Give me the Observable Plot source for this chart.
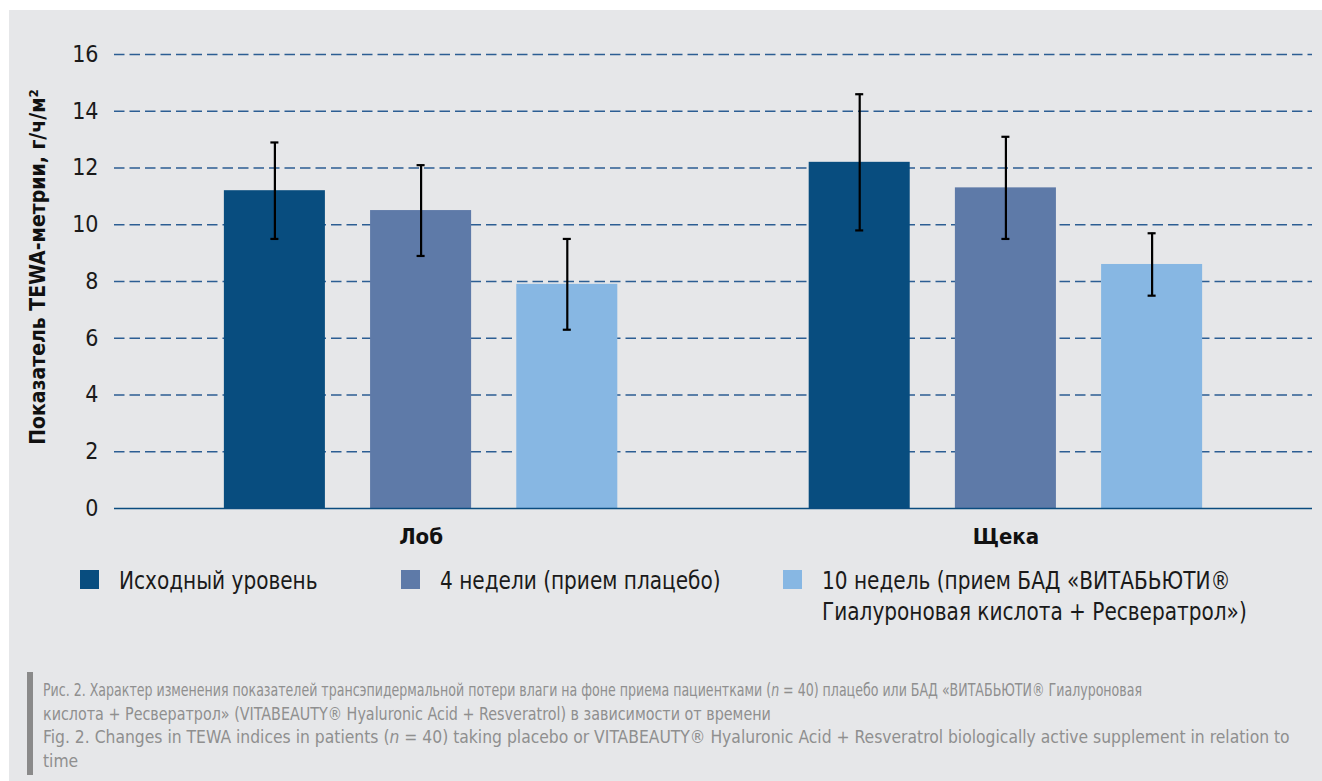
<!DOCTYPE html>
<html>
<head>
<meta charset="utf-8">
<script src="https://cdn.jsdelivr.net/npm/d3@7"></script>
<script src="https://cdn.jsdelivr.net/npm/@observablehq/plot@0.6"></script>
<style>
  html, body { margin: 0; padding: 0; background: #ffffff; }
  body { width: 1322px; height: 781px; position: relative; overflow: hidden;
         font-family: "DejaVu Sans Condensed", "Liberation Sans", sans-serif; }
  #panel { position: absolute; left: 9px; top: 10px; width: 1313px; height: 771px; background: #e6e7e9; }
  #chart { position: absolute; left: 0; top: 0; }
  #ytitle { position: absolute; left: 38px; top: 267px; transform: translate(-50%, -50%) rotate(-90deg);
            white-space: nowrap; font-weight: bold; font-size: 21px; color: #111; }
  .leg { position: absolute; top: 570px; font-size: 24px; color: #1a1a1a; line-height: 31px; }
  .leg .sw { position: absolute; left: 0; top: 0; width: 19px; height: 19px; }
  .leg .tx { position: absolute; left: 39px; top: -4px; white-space: nowrap; transform: scaleX(0.93); transform-origin: 0 0; }
  #capbar { position: absolute; left: 27px; top: 672px; width: 6px; height: 103px; background: #8a8a8a; }
  #caption { position: absolute; left: 43px; top: 679px; font-size: 17.5px; line-height: 23.5px; color: #8f8f8f; }
  #caption .ln { display: block; height: 23.5px; white-space: nowrap; transform-origin: 0 0; }
</style>
</head>
<body>
<div id="panel"></div>
<div id="chart"></div>
<div id="ytitle"></div>
<div id="legend"></div>
<div id="capbar"></div>
<div id="caption"></div>
<script>
// ---- data ----
const groups = ["Лоб", "Щека"];
const series = [
  "Исходный уровень",
  "4 недели (прием плацебо)",
  "10 недель (прием БАД «ВИТАБЬЮТИ® Гиалуроновая кислота + Ресвератрол»)"
];
const legendLines = [
  ["Исходный уровень"],
  ["4 недели (прием плацебо)"],
  ["10 недель (прием БАД «ВИТАБЬЮТИ®", "Гиалуроновая кислота + Ресвератрол»)"]
];
const colors = ["#084d7f", "#5e7aa8", "#87b7e3"];
const foreheadMean = [11.2, 10.5, 7.9];
const foreheadLow  = [9.5, 8.9, 6.3];
const foreheadHigh = [12.9, 12.1, 9.5];
const cheekMean = [12.2, 11.3, 8.6];
const cheekLow  = [9.8, 9.5, 7.5];
const cheekHigh = [14.6, 13.1, 9.7];
const yTicks = [0, 2, 4, 6, 8, 10, 12, 14, 16];
const yTitle = "Показатель TEWA-метрии, г/ч/м²";
const captionLines = [
  "Рис. 2. Характер изменения показателей трансэпидермальной потери влаги на фоне приема пациентками (<i>n</i> = 40) плацебо или БАД «ВИТАБЬЮТИ® Гиалуроновая",
  "кислота + Ресвератрол» (VITABEAUTY® Hyaluronic Acid + Resveratrol) в зависимости от времени",
  "Fig. 2. Changes in TEWA indices in patients (<i>n</i> = 40) taking placebo or VITABEAUTY® Hyaluronic Acid + Resveratrol biologically active supplement in relation to",
  "time"
];
const captionStretch = [0.8, 0.91, 0.99, 0.99];

// ---- table ----
const stats = {
  "Лоб": [foreheadMean, foreheadLow, foreheadHigh],
  "Щека": [cheekMean, cheekLow, cheekHigh]
};
const rows = [];
groups.forEach(g => series.forEach((s, i) => rows.push({
  group: g, series: s, key: g + "|" + i,
  mean: stats[g][0][i], low: stats[g][1][i], high: stats[g][2][i]
})));
const gapKey = "·";
const xDomain = [...series.map((s, i) => "Лоб|" + i), gapKey, ...series.map((s, i) => "Щека|" + i)];

const chart = Plot.plot({
  width: 1322,
  height: 553,
  marginLeft: 114,
  marginRight: 10,
  marginTop: 54,
  marginBottom: 45,
  style: { background: "transparent", fontFamily: "'DejaVu Sans Condensed', 'Liberation Sans', sans-serif", fontSize: "23px", color: "#1a1a1a" },
  x: { type: "band", domain: xDomain, paddingInner: 0.309, paddingOuter: 0.7515, axis: null, round: false },
  y: { domain: [0, 16], ticks: yTicks, tickSize: 0, tickPadding: 16, label: null, tickFormat: d => String(d) },
  color: { domain: series, range: colors },
  marks: [
    Plot.ruleY(yTicks.filter(t => t > 0), { stroke: "#2c5e93", strokeWidth: 1.3, strokeDasharray: "10.5,5" }),
    Plot.barY(rows, { x: "key", y: "mean", fill: "series" }),
    Plot.ruleY([0], { stroke: "#0b4c7f", strokeWidth: 1.6 }),
    Plot.ruleX(rows, { x: "key", y1: "low", y2: "high", stroke: "#000", strokeWidth: 2.2 }),
    Plot.tickY(rows, { x: "key", y: "low", insetLeft: 46.5, insetRight: 46.5, stroke: "#000", strokeWidth: 2.2 }),
    Plot.tickY(rows, { x: "key", y: "high", insetLeft: 46.5, insetRight: 46.5, stroke: "#000", strokeWidth: 2.2 }),
    Plot.text(groups, { x: g => g + "|1", y: () => 0, text: d => d, dy: 28, fontSize: 22, fontWeight: "bold", fill: "#111" })
  ]
});
document.getElementById("chart").appendChild(chart);

document.getElementById("ytitle").textContent = yTitle;

const legendX = [80, 401, 783];
const legend = document.getElementById("legend");
series.forEach((s, i) => {
  const item = document.createElement("div");
  item.className = "leg";
  item.style.left = legendX[i] + "px";
  const sw = document.createElement("div");
  sw.className = "sw";
  sw.style.background = colors[i];
  const tx = document.createElement("div");
  tx.className = "tx";
  tx.innerHTML = legendLines[i].join("<br>");
  item.appendChild(sw);
  item.appendChild(tx);
  legend.appendChild(item);
});

const caption = document.getElementById("caption");
captionLines.forEach((line, i) => {
  const span = document.createElement("span");
  span.className = "ln";
  span.style.transform = "scaleX(" + captionStretch[i] + ")";
  span.innerHTML = line;
  caption.appendChild(span);
});
</script>
</body>
</html>
